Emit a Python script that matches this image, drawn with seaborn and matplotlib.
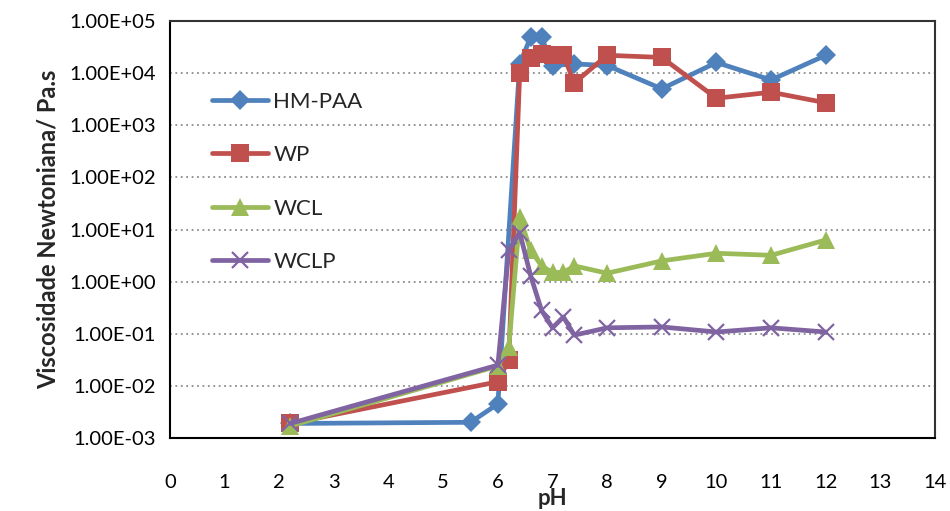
import matplotlib
matplotlib.use("Agg")
import matplotlib.pyplot as plt
import numpy as np
import pandas as pd
import seaborn as sns

# pH values for each series
ph_hmpaa = [2.2, 5.5, 6.0, 6.4, 6.6, 6.8, 7.0, 7.4, 8, 9, 10, 11, 12]
visc_hmpaa = [1.9e-3, 2.0e-3, 4.5e-3, 1.5e4, 4.9e4, 4.9e4, 1.4e4, 1.5e4, 1.4e4, 5.0e3, 1.6e4, 7.4e3, 2.2e4]

ph_wp = [2.2, 6.0, 6.2, 6.4, 6.6, 6.8, 7.0, 7.2, 7.4, 8, 9, 10, 11, 12]
visc_wp = [1.9e-3, 0.012, 0.032, 1.0e4, 1.95e4, 2.3e4, 2.2e4, 2.2e4, 6.5e3, 2.2e4, 2.0e4, 3.3e3, 4.3e3, 2.7e3]

ph_wcl = [2.2, 6.0, 6.2, 6.4, 6.6, 6.8, 7.0, 7.2, 7.4, 8, 9, 10, 11, 12]
visc_wcl = [1.7e-3, 0.024, 0.055, 17, 4.0, 2.0, 1.5, 1.5, 2.0, 1.45, 2.5, 3.5, 3.2, 6.3]

ph_wclp = [2.2, 6.0, 6.2, 6.4, 6.6, 6.8, 7.0, 7.2, 7.4, 8, 9, 10, 11, 12]
visc_wclp = [1.9e-3, 0.025, 4.0, 8.7, 1.3, 0.28, 0.13, 0.21, 0.094, 0.13, 0.135, 0.108, 0.13, 0.108]

series_names = ["HM-PAA", "WP", "WCL", "WCLP"]
x_ticks = list(range(0, 15))
y_ticks = [1e-3, 1e-2, 1e-1, 1e0, 1e1, 1e2, 1e3, 1e4, 1e5]
y_ticklabels = ["1.00E-03", "1.00E-02", "1.00E-01", "1.00E+00", "1.00E+01",
                "1.00E+02", "1.00E+03", "1.00E+04", "1.00E+05"]

sns.set_style("white")
plt.rcParams["font.family"] = ["Lato", "DejaVu Sans"]

fig = plt.figure(figsize=(9.5, 5.11), dpi=100)
ax = fig.add_axes([170 / 950, 1 - 438 / 511, (935 - 170) / 950, (438 - 21) / 511])

styles = {
    "HM-PAA": dict(color="#4F81BD", marker="D", markersize=10.5, markeredgewidth=0),
    "WP": dict(color="#C0504D", marker="s", markersize=12.5, markeredgewidth=0),
    "WCL": dict(color="#9BBB59", marker="^", markersize=13, markeredgewidth=0),
    "WCLP": dict(color="#8064A2", marker="x", markersize=12, markeredgewidth=1.6),
}
data = {
    "HM-PAA": (ph_hmpaa, visc_hmpaa),
    "WP": (ph_wp, visc_wp),
    "WCL": (ph_wcl, visc_wcl),
    "WCLP": (ph_wclp, visc_wclp),
}

for name in series_names:
    xs, ys = data[name]
    df = pd.DataFrame({"pH": xs, "visc": ys})
    st = styles[name]
    sns.lineplot(data=df, x="pH", y="visc", ax=ax, sort=False, estimator=None,
                 color=st["color"], linewidth=3.4, marker=st["marker"],
                 markersize=st["markersize"], markeredgewidth=st["markeredgewidth"],
                 markeredgecolor=st["color"], label=name, zorder=3)

ax.set_yscale("log")
ax.set_xlim(0, 14)
ax.set_ylim(1e-3, 1e5)
ax.set_xticks(x_ticks)
ax.set_xticklabels([str(t) for t in x_ticks])
ax.set_yticks(y_ticks)
ax.set_yticklabels(y_ticklabels)
ax.yaxis.set_minor_locator(matplotlib.ticker.NullLocator())

ax.grid(axis="y", which="major", linestyle=(0, (1, 2)), color="#8c8c8c", linewidth=1.3)
ax.grid(axis="x", visible=False)
ax.set_axisbelow(True)

for side in ["left", "bottom", "top", "right"]:
    ax.spines[side].set_color("#000000")
    ax.spines[side].set_linewidth(1.5)
ax.spines["top"].set_color("#333333")
ax.spines["right"].set_color("#333333")

ax.tick_params(axis="both", which="major", direction="out", length=6, width=1.3,
               color="black", labelsize=14.5, labelcolor="black")
ax.tick_params(axis="y", pad=4)
ax.tick_params(axis="x", pad=20)
ax.tick_params(top=False, right=False)

ax.set_xlabel("pH", fontsize=16, fontweight="bold", labelpad=-2)
ax.set_ylabel("Viscosidade Newtoniana/ Pa.s", fontsize=17, fontweight="bold", labelpad=7)

leg = ax.legend(loc="upper left", bbox_to_anchor=(0.055, 0.83), frameon=False,
                fontsize=16, handlelength=2.5, labelspacing=1.5, handletextpad=0.25,
                borderpad=0, borderaxespad=0)

fig.savefig("out.png", dpi=100)
